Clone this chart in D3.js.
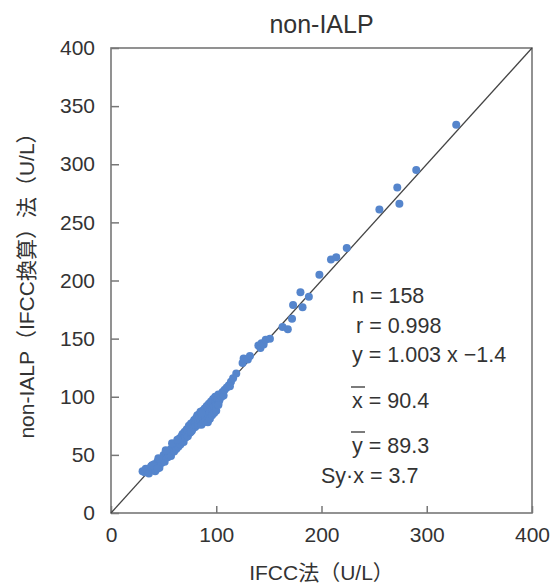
<!DOCTYPE html>
<html>
<head>
<meta charset="utf-8">
<script src="https://cdn.jsdelivr.net/npm/d3@7"></script>
<style>
  body { margin: 0; background: #fff; }
  text { font-family: "Liberation Sans", Arial, "Noto Sans CJK JP", sans-serif; fill: #333; }
  .axis text { font-size: 21px; }
  .axis line { stroke: #777; stroke-width: 1.5; }
  .stats text { font-size: 21.5px; }
</style>
</head>
<body>
<div id="chart"></div>
<script>
// x = IFCC method, y = non-IALP (IFCC converted), U/L
const xVals = [30, 32, 33, 35, 36, 38, 40, 41, 42, 43, 44, 45, 46, 47, 48, 49, 50, 50, 51, 52,
  53, 54, 55, 55, 56, 57, 57, 58, 59, 60, 60, 61, 62, 62, 63, 64, 64, 65, 65, 66,
  66, 67, 67, 68, 68, 69, 69, 70, 70, 71, 71, 72, 72, 73, 73, 74, 74, 75, 75, 76,
  76, 77, 77, 78, 78, 79, 79, 80, 80, 81, 81, 82, 82, 83, 83, 84, 84, 85, 85, 86,
  86, 87, 87, 88, 88, 89, 89, 90, 90, 91, 91, 92, 92, 93, 93, 94, 94, 95, 95, 96,
  96, 97, 97, 98, 98, 99, 99, 100, 100, 101, 102, 102, 103, 102, 105, 106, 107, 108, 110, 112,
  114, 113, 45, 52, 58, 39, 44, 63, 76, 86,
  116, 119, 125, 126, 130, 132, 140, 142, 143, 145, 147, 151, 163, 168, 172, 173, 180, 182, 188, 198,
  209, 214, 224, 255, 272, 274, 290, 328];
const yVals = [36, 35, 38, 37, 34, 40, 37, 42, 36, 40, 44, 41, 39, 45, 43, 47, 46, 50, 44, 49,
  51, 48, 53, 50, 52, 55, 49, 54, 57, 56, 53, 58, 60, 55, 59, 62, 57, 61, 64, 63,
  59, 66, 62, 65, 68, 64, 61, 67, 70, 69, 65, 72, 68, 70, 66, 73, 75, 72, 69, 74,
  77, 75, 71, 78, 73, 76, 80, 78, 74, 82, 79, 77, 84, 80, 76, 85, 82, 79, 87, 83,
  76, 88, 84, 80, 78, 86, 90, 82, 79, 88, 92, 85, 78, 90, 94, 87, 81, 92, 96, 89,
  84, 94, 98, 91, 86, 96, 100, 93, 88, 98, 94, 102, 97, 93, 100, 104, 101, 106, 108, 110,
  113, 109, 47, 54, 60, 41, 38, 63, 70, 86,
  116, 120, 129, 133, 132, 135, 144, 142, 146, 145, 149, 150, 160, 158, 167, 179, 190, 177, 186, 205,
  218, 220, 228, 261, 280, 266, 295, 334];

const xTicks = [0, 100, 200, 300, 400];
const yTicks = [0, 50, 100, 150, 200, 250, 300, 350, 400];
const identity = [0, 400];

const statLines = ['n = 158', 'r = 0.998', 'y = 1.003 x \u22121.4', 'x = 90.4', 'y = 89.3', 'Sy\u00b7x = 3.7'];

const width = 558, height = 587;
const margin = { top: 48, right: 26, bottom: 74, left: 111 };
const w = width - margin.left - margin.right;
const h = height - margin.top - margin.bottom;

const svg = d3.select('#chart').append('svg')
  .attr('width', width)
  .attr('height', height);

const g = svg.append('g')
  .attr('transform', 'translate(' + margin.left + ',' + margin.top + ')');

// scales
const x = d3.scaleLinear().domain([0, 400]).range([0, w]);
const y = d3.scaleLinear().domain([0, 400]).range([h, 0]);

// AXES (ticks point inward)
const xAxis = d3.axisBottom(x).tickValues(xTicks).tickSize(-7).tickPadding(14);
const yAxis = d3.axisLeft(y).tickValues(yTicks).tickSize(-8).tickPadding(16);

g.append('g')
  .attr('class', 'axis axis--x')
  .attr('transform', 'translate(0,' + h + ')')
  .call(xAxis)
  .call(a => a.select('.domain').remove());

g.append('g')
  .attr('class', 'axis axis--y')
  .call(yAxis)
  .call(a => a.select('.domain').remove());

g.selectAll('.axis text').style('fill', '#333');

// frame
g.append('rect')
  .attr('x', 0).attr('y', 0)
  .attr('width', w).attr('height', h)
  .attr('fill', 'none')
  .attr('stroke', '#777')
  .attr('stroke-width', 1.6);

// line of identity
g.append('line')
  .attr('x1', x(identity[0])).attr('y1', y(identity[0]))
  .attr('x2', x(identity[1])).attr('y2', y(identity[1]))
  .attr('stroke', '#444')
  .attr('stroke-width', 1.3);

// DRAW POINTS
g.selectAll('.dot')
  .data(d3.range(xVals.length))
  .enter().append('circle')
  .attr('class', 'dot')
  .attr('cx', i => x(xVals[i]))
  .attr('cy', i => y(yVals[i]))
  .attr('r', 4)
  .attr('fill', '#5585cc');

// title + axis labels
svg.append('text')
  .attr('x', margin.left + w / 2)
  .attr('y', 33)
  .attr('text-anchor', 'middle')
  .style('font-size', '25px')
  .text('non-IALP');

svg.append('text')
  .attr('x', margin.left + w / 2)
  .attr('y', 580)
  .attr('text-anchor', 'middle')
  .style('font-size', '21px')
  .text('IFCC法（U/L）');

svg.append('text')
  .attr('transform', 'translate(34,' + (margin.top + h / 2) + ') rotate(-90)')
  .attr('text-anchor', 'middle')
  .style('font-size', '21px')
  .text('non-IALP（IFCC換算）法（U/L）');

// STATS BOX
const stats = svg.append('g').attr('class', 'stats');
const statPos = [[352, 303], [356, 333], [352, 362], [352, 408], [352, 453], [321, 483]];

stats.selectAll('text')
  .data(statLines)
  .enter().append('text')
  .attr('x', (d, i) => statPos[i][0])
  .attr('y', (d, i) => statPos[i][1])
  .text(d => d);

// overbars for x-bar and y-bar
[3, 4].forEach(i => {
  stats.append('line')
    .attr('x1', statPos[i][0] - 1).attr('x2', statPos[i][0] + 13)
    .attr('y1', statPos[i][1] - 21).attr('y2', statPos[i][1] - 21)
    .attr('stroke', '#333')
    .attr('stroke-width', 1.3);
});
</script>
</body>
</html>
